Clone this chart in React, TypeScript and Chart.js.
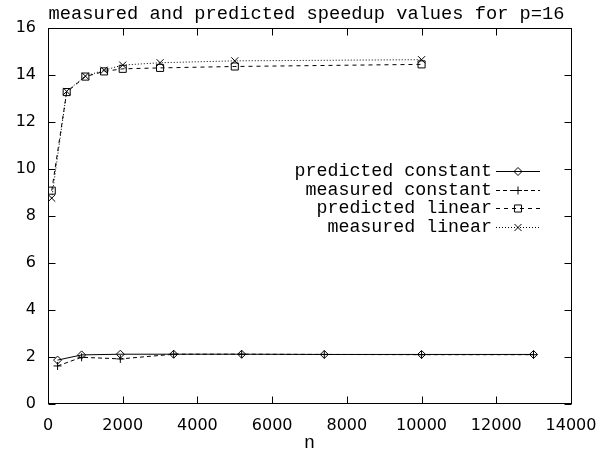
import React, { useEffect, useRef } from 'react';
import { Chart, registerables } from 'chart.js';

Chart.register(...registerables);

// Problem sizes n for each experiment
const constantSizes = [256, 900, 1936, 3364, 5184, 7396, 10000, 12996];
const linearSizes = [100, 500, 1000, 1500, 2000, 3000, 5000, 10000];

// Speedup values on p=16 processors
const predictedConstant = [1.85, 2.07, 2.1, 2.1, 2.1, 2.09, 2.09, 2.09];
const measuredConstant = [1.6, 1.97, 1.9, 2.1, 2.1, 2.09, 2.08, 2.08];
const predictedLinear = [9.07, 13.27, 13.93, 14.15, 14.26, 14.3, 14.36, 14.45];
const measuredLinear = [8.75, 13.3, 13.95, 14.2, 14.42, 14.52, 14.6, 14.65];

const seriesLabels = ['predicted constant', 'measured constant', 'predicted linear', 'measured linear'];
const titleText = 'measured and predicted speedup values for p=16';
const xAxisTitle = 'n';

const ink = '#000000';
const monoFont = '"Liberation Mono", "Courier New", monospace';
const sansFont = '"DejaVu Sans", sans-serif';

type Marker = 'rectRot' | 'cross' | 'rect' | 'crossRot';

function traceMarker(ctx: CanvasRenderingContext2D, style: Marker, x: number, y: number, r: number) {
  ctx.beginPath();
  const s = r * Math.SQRT1_2;
  switch (style) {
    case 'rectRot':
      ctx.moveTo(x, y - r);
      ctx.lineTo(x + r, y);
      ctx.lineTo(x, y + r);
      ctx.lineTo(x - r, y);
      ctx.closePath();
      break;
    case 'cross':
      ctx.moveTo(x - r, y);
      ctx.lineTo(x + r, y);
      ctx.moveTo(x, y - r);
      ctx.lineTo(x, y + r);
      break;
    case 'rect':
      ctx.rect(x - s, y - s, 2 * s, 2 * s);
      break;
    case 'crossRot':
      ctx.moveTo(x - s, y - s);
      ctx.lineTo(x + s, y + s);
      ctx.moveTo(x + s, y - s);
      ctx.lineTo(x - s, y + s);
      break;
  }
  ctx.stroke();
}

// Gnuplot-like frame: full border with inward ticks mirrored on all sides
const frameTicks = {
  id: 'frameTicks',
  afterDatasetsDraw(chart: any) {
    const { ctx, chartArea: a, scales } = chart;
    const xs = scales.x;
    const ys = scales.y;
    const L = Math.floor(a.left) + 0.5;
    const R = Math.floor(a.right) + 0.5;
    const T = Math.floor(a.top) + 0.5;
    const B = Math.floor(a.bottom) + 0.5;
    const len = 7;
    ctx.save();
    ctx.strokeStyle = ink;
    ctx.lineWidth = 1;
    ctx.setLineDash([]);
    ctx.strokeRect(L, T, R - L, B - T);
    ctx.beginPath();
    xs.ticks.forEach((t: any) => {
      const px = Math.round(xs.getPixelForValue(t.value)) + 0.5;
      ctx.moveTo(px, B);
      ctx.lineTo(px, B - len);
      ctx.moveTo(px, T);
      ctx.lineTo(px, T + len);
    });
    ys.ticks.forEach((t: any) => {
      const py = Math.round(ys.getPixelForValue(t.value)) + 0.5;
      ctx.moveTo(L, py);
      ctx.lineTo(L + len, py);
      ctx.moveTo(R, py);
      ctx.lineTo(R - len, py);
    });
    ctx.stroke();
    ctx.restore();
  },
};

// Plot title centred over the frame and the x-axis label under the tick labels
const captions = {
  id: 'captions',
  afterDraw(chart: any) {
    const { ctx, chartArea: a } = chart;
    ctx.save();
    ctx.fillStyle = ink;
    ctx.textAlign = 'center';
    ctx.textBaseline = 'alphabetic';
    ctx.font = `18.7px ${monoFont}`;
    ctx.fillText(titleText, 306.5, 18.5);
    ctx.font = `18.3px ${monoFont}`;
    ctx.fillText(xAxisTitle, (a.left + a.right) / 2, 448);
    ctx.restore();
  },
};

// Key inside the plot: right-aligned labels followed by a line sample with its marker
const keyBox = {
  id: 'keyBox',
  afterDraw(chart: any) {
    const { ctx } = chart;
    const textRight = 492;
    const sampleLeft = 496;
    const sampleRight = 540;
    const firstRow = 171;
    const rowStep = 18.7;
    ctx.save();
    ctx.font = `18.3px ${monoFont}`;
    ctx.fillStyle = ink;
    ctx.strokeStyle = ink;
    ctx.lineWidth = 1;
    ctx.textAlign = 'right';
    ctx.textBaseline = 'middle';
    chart.data.datasets.forEach((ds: any, i: number) => {
      const y = Math.round(firstRow + i * rowStep) + 0.5;
      ctx.setLineDash([]);
      ctx.fillText(ds.label, textRight, y);
      ctx.setLineDash(ds.borderDash || []);
      ctx.beginPath();
      ctx.moveTo(sampleLeft, y);
      ctx.lineTo(sampleRight, y);
      ctx.stroke();
      ctx.setLineDash([]);
      traceMarker(ctx, ds.pointStyle, (sampleLeft + sampleRight) / 2, y, ds.pointRadius);
    });
    ctx.restore();
  },
};

function toPoints(xs: number[], ys: number[]) {
  return xs.map((x, i) => ({ x, y: ys[i] }));
}

export default function App() {
  const canvasRef = useRef<HTMLCanvasElement | null>(null);

  useEffect(() => {
    const canvas = canvasRef.current;
    if (!canvas) return;

    const common = {
      borderColor: ink,
      backgroundColor: 'transparent',
      pointBorderColor: ink,
      pointBackgroundColor: 'transparent',
      borderWidth: 1,
      pointBorderWidth: 1,
      pointHoverRadius: 0,
      fill: false,
      tension: 0,
    };

    const chart = new Chart(canvas, {
      type: 'line',
      data: {
        datasets: [
          {
            ...common,
            label: seriesLabels[0],
            data: toPoints(constantSizes, predictedConstant),
            pointStyle: 'rectRot',
            pointRadius: 4,
            borderDash: [],
          },
          {
            ...common,
            label: seriesLabels[1],
            data: toPoints(constantSizes, measuredConstant),
            pointStyle: 'cross',
            pointRadius: 4,
            borderDash: [4, 3],
          },
          {
            ...common,
            label: seriesLabels[2],
            data: toPoints(linearSizes, predictedLinear),
            pointStyle: 'rect',
            pointRadius: 5,
            borderDash: [4, 4],
          },
          {
            ...common,
            label: seriesLabels[3],
            data: toPoints(linearSizes, measuredLinear),
            pointStyle: 'crossRot',
            pointRadius: 5,
            borderDash: [1, 2],
          },
        ] as any,
      },
      options: {
        responsive: false,
        animation: false,
        events: [],
        layout: { padding: { top: 28, right: 41, bottom: 0, left: 0 } },
        plugins: {
          legend: { display: false },
          tooltip: { enabled: false },
          title: { display: false },
        },
        scales: {
          x: {
            type: 'linear',
            min: 0,
            max: 14000,
            ticks: {
              stepSize: 2000,
              autoSkip: false,
              maxRotation: 0,
              padding: 13,
              color: ink,
              font: { family: sansFont, size: 16 },
              callback: (v: any) => String(v),
            },
            grid: { display: false, drawTicks: false },
            border: { display: false },
            afterFit(scale: any) {
              scale.height = 47.5;
            },
          },
          y: {
            type: 'linear',
            min: 0,
            max: 16,
            ticks: {
              stepSize: 2,
              padding: 12,
              color: ink,
              font: { family: sansFont, size: 16 },
              callback: (v: any) => String(v),
            },
            grid: { display: false, drawTicks: false },
            border: { display: false },
            afterFit(scale: any) {
              scale.width = 48;
            },
          },
        },
      } as any,
      plugins: [frameTicks, captions, keyBox],
    });

    return () => chart.destroy();
  }, []);

  return (
    <div style={{ position: 'absolute', left: 0, top: 0, width: 612, height: 451, background: '#fff' }}>
      <canvas ref={canvasRef} width={612} height={451} style={{ display: 'block' }} />
    </div>
  );
}
